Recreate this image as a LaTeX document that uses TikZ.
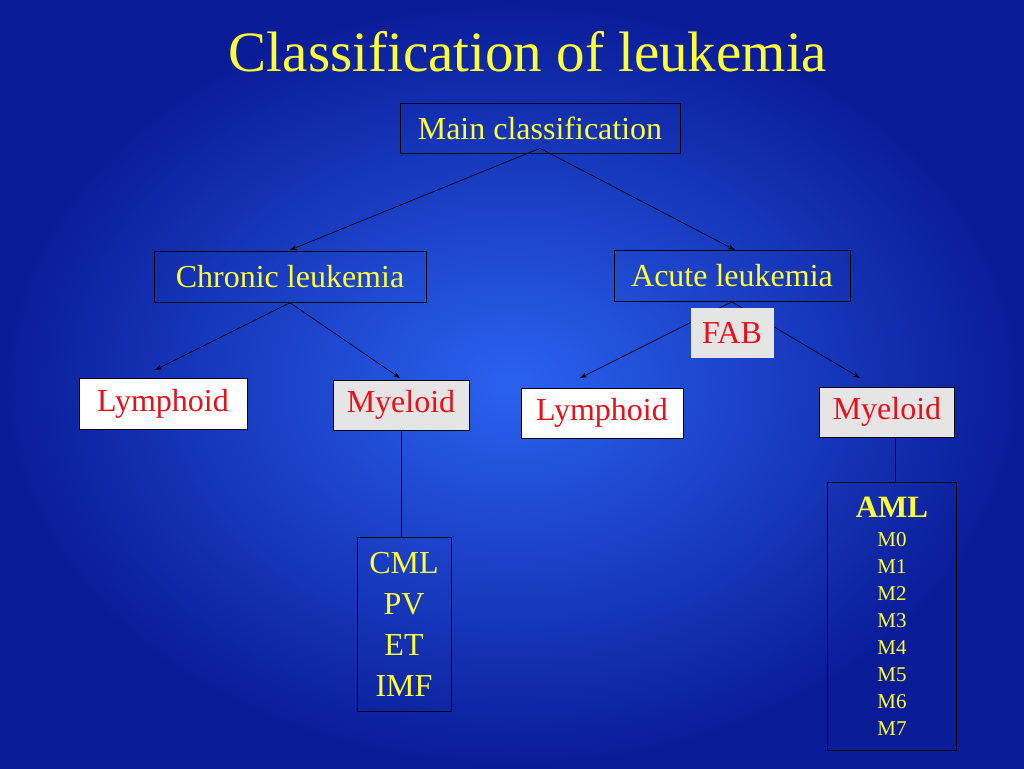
\documentclass[tikz,border=0pt]{standalone}
\usepackage{fontspec}
\setmainfont{Liberation Serif}
\usetikzlibrary{arrows.meta}
\definecolor{bgin}{HTML}{2A62F0}
\definecolor{bgout}{HTML}{0A1C98}
\definecolor{txtyel}{HTML}{FFFF33}
\definecolor{txtred}{HTML}{E8101A}
\begin{document}
\begin{tikzpicture}[x=1pt,y=-1pt,
    box/.style={draw=black,line width=0.6pt,inner sep=0pt,align=center,
      font=\fontsize{32}{36}\selectfont},
    ybox/.style={box,text=txtyel},
    rbox/.style={box,text=txtred,fill=white},
    gbox/.style={box,text=txtred,fill=gray!20},
    link/.style={draw=black,line width=0.6pt,-{Stealth[length=7pt,width=5pt]}}]
  % background
  \shade[inner color=bgin,outer color=bgout] (0,0) rectangle (1024,768);
  \useasboundingbox (0,0) rectangle (1024,768);
  % title
  \node[text=txtyel,font=\fontsize{57}{62}\selectfont] (title) at (528,52) {Classification of leukemia};
  % tree
  \node[ybox,minimum width=280,minimum height=50] (main) at (540,128) {Main classification};
  \node[ybox,minimum width=272,minimum height=51] (chronic) at (290,277) {Chronic leukemia};
  \node[ybox,minimum width=236,minimum height=51] (acute) at (732,276) {Acute leukemia};
  \node[gbox,draw=none,minimum width=83,minimum height=50] (fab) at (732,333) {FAB};
  \node[rbox,minimum width=168,minimum height=51] (lymphL) at (163,404) {Lymphoid};
  \node[gbox,minimum width=136,minimum height=50] (myeloL) at (401,405) {Myeloid};
  \node[rbox,minimum width=162,minimum height=50] (lymphR) at (602,413) {Lymphoid};
  \node[gbox,minimum width=135,minimum height=50] (myeloR) at (887,412) {Myeloid};
  \node[ybox,minimum width=94,minimum height=174,font=\fontsize{32}{41}\selectfont] (cml) at (404,624) {CML\\PV\\ET\\IMF};
  \node[ybox,minimum width=129,minimum height=268,font=\fontsize{21}{27}\selectfont] (aml) at (892,616)
    {{\fontsize{31}{33}\selectfont\bfseries AML}\\[2pt]M0\\M1\\M2\\M3\\M4\\M5\\M6\\M7};
  % connectors
  \draw[link] ([yshift=5]main.south) -- (290,250);
  \draw[link] ([yshift=5]main.south) -- (735,250);
  \draw[link] (chronic.south) -- (155,370);
  \draw[link] (chronic.south) -- (400,378);
  \draw[link] (acute.south) -- (580,378);
  \draw[link] (acute.south) -- (860,378);
  \draw[line width=0.6pt] (myeloL.south) -- (cml.north -| myeloL.south);
  \draw[line width=0.6pt] (myeloR.south -| aml.north) ++(3,0) -- ([xshift=3]aml.north);
  \node[gbox,draw=none,minimum width=83,minimum height=50] at (fab) {FAB};
\end{tikzpicture}
\end{document}
